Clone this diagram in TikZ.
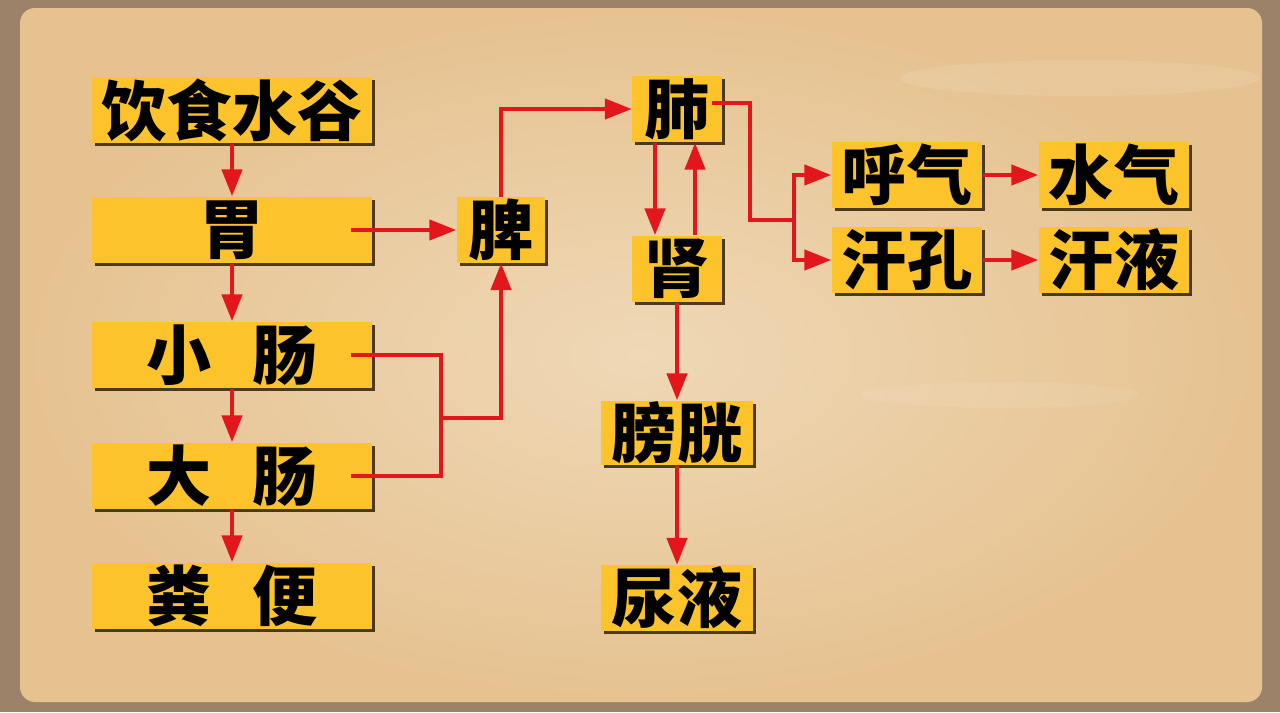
\documentclass[tikz,border=0pt]{standalone}
\usepackage{fontspec}
\newfontfamily\cjk{Noto Sans CJK SC}
\usetikzlibrary{arrows.meta, positioning, shadows}
\definecolor{boxyellow}{HTML}{FCC42A}
\definecolor{flowred}{HTML}{E3161B}
\definecolor{paper}{HTML}{E6C290}
\definecolor{paperlight}{HTML}{EFD8B6}
\definecolor{paperedge}{HTML}{9C8268}
\definecolor{boxshade}{HTML}{3B2A12}

\begin{document}
\begin{tikzpicture}[x=0.01cm, y=-0.01cm, >={Triangle[length=0.27cm,width=0.2cm]},
        every node/.style={inner sep=0mm, font=\cjk\bfseries\fontsize{18.5}{20}\selectfont},
        organ/.style={fill=boxyellow, minimum height=0.66cm, drop shadow={shadow xshift=0.03cm, shadow yshift=-0.03cm, fill=boxshade, opacity=0.9}},
        flow/.style={draw=flowred, line width=0.045cm}]
        \useasboundingbox (0,0) rectangle (1280,712);
        \fill[paperedge] (0,0) rectangle (1280,712);
        \shade[inner color=paperlight, outer color=paper, rounded corners=0.15cm] (20,8) rectangle (1262,702);
        \fill[white, opacity=0.1] (1080,78) ellipse [x radius=1.8cm, y radius=0.18cm];
        \fill[white, opacity=0.08] (1000,395) ellipse [x radius=1.4cm, y radius=0.13cm];

        \node[organ, minimum width=2.8cm] (yssg) at (232,110) {饮食水谷};
        \node[organ, minimum width=2.8cm] (wei) at (232,230) {胃};
        \node[organ, minimum width=2.8cm] (xc) at (232,355) {小\hspace{0.4cm}肠};
        \node[organ, minimum width=2.8cm] (dc) at (232,476) {大\hspace{0.4cm}肠};
        \node[organ, minimum width=2.8cm] (fb) at (232,596) {粪\hspace{0.4cm}便};
        \node[organ, minimum width=0.88cm, minimum height=0.65cm] (pi) at (501,230) {脾};
        \node[organ, minimum width=0.89cm] (fei) at (677,109) {肺};
        \node[organ, minimum width=0.89cm] (shen) at (677,269) {肾};
        \node[organ, minimum width=1.51cm, minimum height=0.64cm] (pgg) at (677,433) {膀胱};
        \node[organ, minimum width=1.51cm, minimum height=0.65cm] (niao) at (677,598) {尿液};
        \node[organ, minimum width=1.5cm] (huqi) at (907,175) {呼气};
        \node[organ, minimum width=1.5cm] (hankong) at (907,260) {汗孔};
        \node[organ, minimum width=1.5cm] (shuiqi) at (1114,175) {水气};
        \node[organ, minimum width=1.5cm] (hanye) at (1114,260) {汗液};
        \coordinate (jn) at (441,418);
        \coordinate (fz) at (750,220);
        \coordinate (fc) at (794,220);

        \draw[flow, ->] (yssg) -- (wei);
        \draw[flow, ->] (wei) -- (xc);
        \draw[flow, ->] (xc) -- (dc);
        \draw[flow, ->] (dc) -- (fb);

        \draw[flow, ->] ([xshift=-0.22cm]wei.east) -- (pi);
        \draw[flow] ([xshift=-0.22cm]xc.east) -| (jn) |- ([xshift=-0.22cm]dc.east);
        \draw[flow, ->] (jn) -| (pi);
        \draw[flow, ->] (pi) |- (fei);

        \draw[flow, ->] ([xshift=-0.22cm]fei.south) -- ([xshift=-0.22cm]shen.north);
        \draw[flow, ->] ([xshift=0.18cm]shen.north) -- ([xshift=0.18cm]fei.south);
        \draw[flow, ->] (shen) -- (pgg);
        \draw[flow, ->] (pgg) -- (niao);

        \draw[flow] ([shift={(-10,-6)}]fei.east) -| (fz) -- (fc);
        \draw[flow, ->] (fc) |- (huqi);
        \draw[flow, ->] (fc) |- (hankong);
        \draw[flow, ->] (huqi) -- (shuiqi);
        \draw[flow, ->] (hankong) -- (hanye);
\end{tikzpicture}
\end{document}
